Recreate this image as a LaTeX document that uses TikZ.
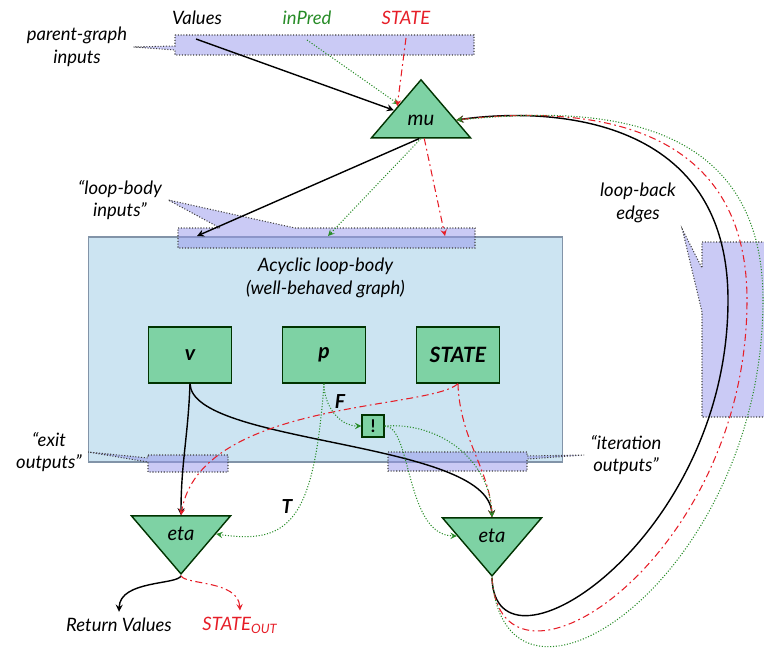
\documentclass[tikz,border=0pt]{standalone}
\usepackage{fontspec}
\setmainfont{Lato}
\usetikzlibrary{positioning, arrows, shapes.geometric}

\definecolor{mint}{RGB}{126,210,164}
\definecolor{bodyblue}{RGB}{204,228,242}
\definecolor{bodyline}{RGB}{130,148,168}
\definecolor{lav}{RGB}{150,150,235}
\definecolor{predgreen}{RGB}{40,140,40}
\definecolor{statered}{RGB}{230,30,40}

\begin{document}
\begin{tikzpicture}[->,>=stealth,semithick,x=0.02cm,y=-0.02cm,node distance=2.68cm,
    every node/.style={font=\fontsize{10.5}{13}\selectfont\itshape},
    block/.style={rectangle, draw=black!80!green, thick, fill=mint, minimum width=1.66cm, minimum height=1.12cm, font=\fontsize{12}{14}\selectfont\bfseries\itshape},
    tri/.style={isosceles triangle, isosceles triangle stretches, draw=black!80!green, thick, fill=mint, minimum width=1.98cm, minimum height=1.16cm, inner sep=0pt, font=\fontsize{11.5}{13}\selectfont\itshape},
    mutri/.style={tri, shape border rotate=90},
    etatri/.style={tri, shape border rotate=-90},
    callout/.style={-, draw=black!75, densely dotted, fill=lav, fill opacity=0.5},
    valedge/.style={black, thick},
    prededge/.style={predgreen, densely dotted},
    stateedge/.style={statered, dash pattern=on 4pt off 2pt on 1pt off 2pt},
    lbl/.style={text=black, font=\fontsize{11}{13}\selectfont\bfseries\itshape}]
      \useasboundingbox (0,0) rectangle (764,652);

      % Loop body
      \node[rectangle, draw=bodyline, fill=bodyblue, minimum width=9.5cm, minimum height=4.5cm] (body) at (325.5,349.5) {};
      \node[align=center, below=0.3cm of body.north] (acy) {Acyclic loop-body\\(well-behaved graph)};

      % Notes
      \node[align=center] (pgi) at (77,47) {parent-graph\\inputs};
      \node[align=center] (lbi) at (120,200) {“loop-body\\inputs”};
      \node[align=center] (lbe) at (638,203) {loop-back\\edges};
      \node[align=center] (exo) at (49,452) {“exit\\outputs”};
      \node[align=center] (ito) at (626,455) {“iteration\\outputs”};

      % Callouts
      \path[callout] (175,35) -- (474,35) -- (474,55) -- (175,55) -- (175,50) -- (pgi.east) -- (175,46) -- cycle;
      \path[callout] (178,228) -- (220,228) -- (lbi.east) -- (295,228) -- (475,228) -- (475,248) -- (178,248) -- cycle;
      \path[callout] (702,242) -- (770,242) -- (770,417) -- (702,417) -- (702,312) -- (lbe.south east) -- (702,268) -- cycle;
      \path[callout] (148,455) -- (228,455) -- (228,472) -- (148,472) -- (148,462) -- (exo.east) -- (148,458) -- cycle;
      \path[callout] (388,452) -- (527,452) -- (527,456) -- (ito.west) -- (527,459) -- (527,471) -- (388,471) -- cycle;

      % Parent graph inputs
      \node (vals) at (197,18) {Values};
      \node[text=predgreen] (pred) at (307,18) {inPred};
      \node[text=statered] (stin) at (406,18) {STATE};
      \coordinate (outV) at (196,39);
      \coordinate (outP) at (307,40);
      \coordinate (outS) at (406,38);

      % mu
      \node[mutri] (mu) at (421,120) {mu};

      % Loop body inputs
      \coordinate (inV) at (197,236);
      \coordinate (inP) at (328,236);
      \coordinate (inS) at (445,236);

      % Inner nodes
      \node[block] (v) at (190,355) {v};
      \node[block] (p) [right of=v] {p};
      \node[block] (st) [right of=p] {STATE};
      \node[rectangle, draw=black!80!green, thick, fill=mint, minimum size=0.44cm, inner sep=0pt, font=\bfseries] (neg) at (373,426) {!};

      % eta
      \node[etatri] (etaL) at (181,534) {eta};
      \node[etatri] (etaR) at (492,536) {eta};

      % Results
      \node (retv) at (119,625) {Return Values};
      \node[text=statered] (stout) at (240,625) {STATE\textsubscript{OUT}};

      % Into mu
      \draw[valedge] (outV) -- (mu);
      \draw[prededge] (outP) -- (mu);
      \draw[stateedge] (outS) -- (mu.150);

      % Out of mu
      \draw[valedge] (mu.-95) -- (inV);
      \draw[prededge] (mu.-90) -- (inP);
      \draw[stateedge] (mu.-80) -- (inS);

      % Inside the loop body
      \draw[valedge] (v.south) to[out=-92, in=90] (etaL.90);
      \draw[valedge] (v.south) .. controls (192,445) and (488,440) .. (etaR.90);
      \draw[stateedge] (st.south) .. controls (430,410) and (200,400) .. (etaL.90);
      \draw[stateedge] (st.south) .. controls (460,440) and (490,470) .. (etaR.90);
      \draw[prededge] (p.south) to[out=-90, in=180] node[lbl, pos=0.45, above right, inner sep=1pt] {F} (neg.west);
      \draw[prededge] (p.south) .. controls (314,520) and (290,545) .. node[lbl, pos=0.45, left] {T} (etaL.0);
      \draw[prededge] (neg.east) .. controls (440,422) and (490,460) .. (etaR.90);
      \draw[prededge] (neg.east) .. controls (412,426) and (405,535) .. (etaR.180);

      % Exits
      \draw[valedge] (etaL.-90) .. controls (178,585) and (120,580) .. (retv.north);
      \draw[stateedge] (etaL.-90) .. controls (185,585) and (238,580) .. (stout.north);

      % Loop-back edges
      \draw[valedge] (etaR.-90) .. controls (495,690) and (728,540) .. (728,300) .. controls (728,110) and (540,108) .. (mu.0);
      \draw[stateedge] (etaR.-90) .. controls (500,720) and (747,560) .. (747,300) .. controls (747,100) and (545,110) .. (mu.0);
      \draw[prededge] (etaR.-90) .. controls (505,750) and (763,578) .. (763,300) .. controls (763,92) and (550,112) .. (mu.0);
\end{tikzpicture}
\end{document}
